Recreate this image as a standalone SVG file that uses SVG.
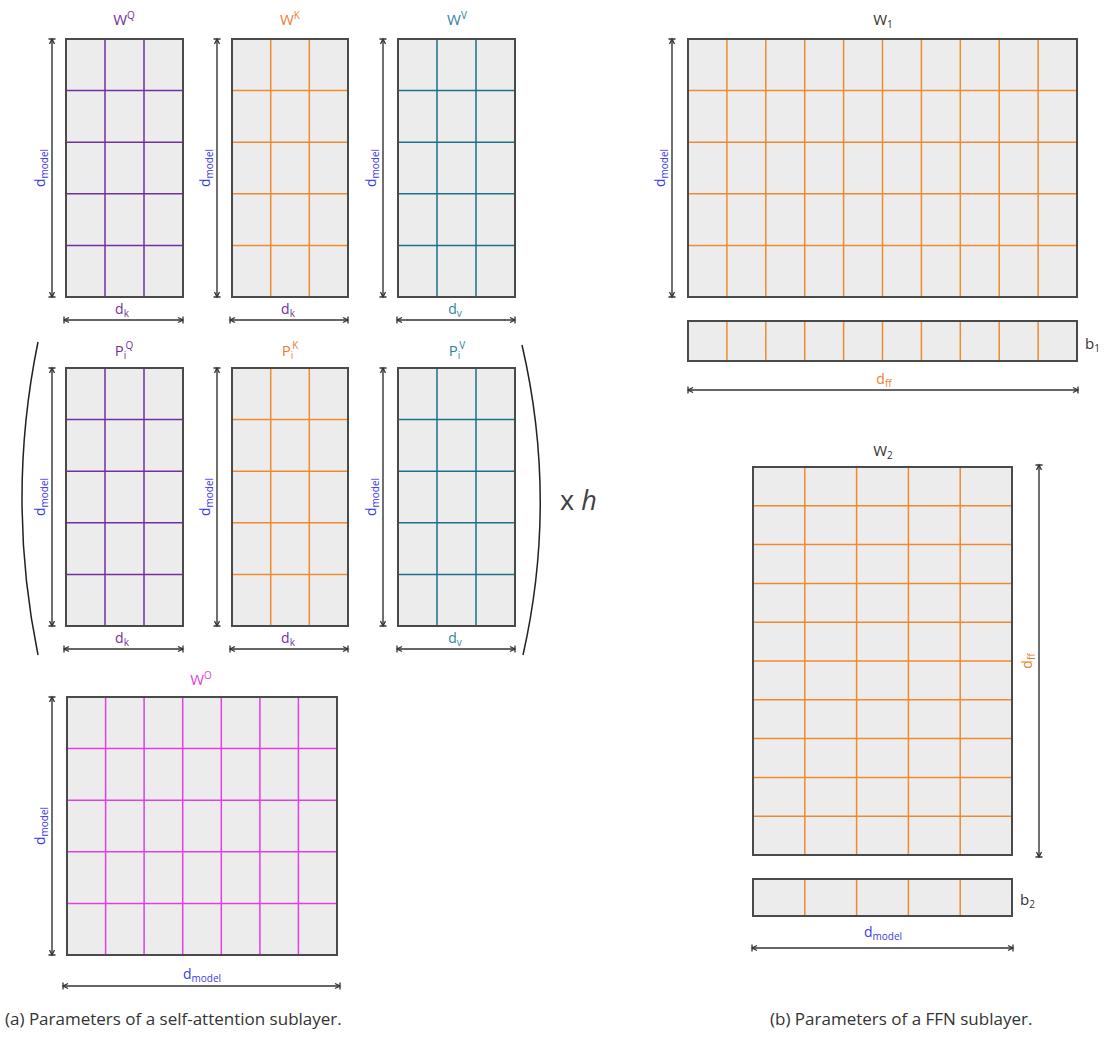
<svg xmlns="http://www.w3.org/2000/svg" width="1104" height="1037" viewBox="0 0 1104 1037">
<style>
text{font-family:"Open Sans","Noto Sans","DejaVu Sans",sans-serif}
.cell{fill:#ececec}
.border{fill:none;stroke:#4a4a4a;stroke-width:2}
.gq{stroke:#7030a0;stroke-width:1.5}
.gk{stroke:#f08a30;stroke-width:1.5}
.gv{stroke:#1f6f8b;stroke-width:1.5}
.go{stroke:#e040e0;stroke-width:1.5}
.dim{stroke:#333;stroke-width:1.4;fill:none;marker-start:url(#tick);marker-end:url(#tick)}
.par{fill:none;stroke:#222;stroke-width:1.5}
.ttl{font-size:15px;text-anchor:middle}
.lbl{font-size:14px;text-anchor:middle}
.sub{font-size:10px}
.sup{font-size:10px}
.pq{fill:#7030a0}.pk{fill:#ed7d31}.pv{fill:#31849b}.po{fill:#e040e0}.bl{fill:#3a3aef}.dk{fill:#333}
.cap{font-size:17px;fill:#333}
</style>
<defs>
<marker id="tick" viewBox="-8 -5 10 10" refX="0" refY="0" markerWidth="10" markerHeight="10" markerUnits="userSpaceOnUse" orient="auto-start-reverse">
<path d="M0,-3.5 L0,3.5 M-5,-2.5 L0,0 L-5,2.5" fill="none" stroke="#333" stroke-width="1.3"/>
</marker>
</defs>

<g id="WQ">
<rect class="cell" x="66" y="39" width="117" height="258"/>
<path class="gq" d="M105,39V297M144,39V297M66,90.6H183M66,142.2H183M66,193.8H183M66,245.4H183"/>
<rect class="border" x="66" y="39" width="117" height="258"/>
<text class="ttl pq" x="124" y="25">W<tspan class="sup" dy="-6">Q</tspan></text>
</g>
<g id="WK">
<rect class="cell" x="232" y="39" width="116" height="258"/>
<path class="gk" d="M270.7,39V297M309.3,39V297M232,90.6H348M232,142.2H348M232,193.8H348M232,245.4H348"/>
<rect class="border" x="232" y="39" width="116" height="258"/>
<text class="ttl pk" x="290" y="25">W<tspan class="sup" dy="-6">K</tspan></text>
</g>
<g id="WV">
<rect class="cell" x="398" y="39" width="117" height="258"/>
<path class="gv" d="M437,39V297M476,39V297M398,90.6H515M398,142.2H515M398,193.8H515M398,245.4H515"/>
<rect class="border" x="398" y="39" width="117" height="258"/>
<text class="ttl pv" x="457" y="25">W<tspan class="sup" dy="-6">V</tspan></text>
</g>

<g id="PQ">
<rect class="cell" x="66" y="368" width="117" height="258"/>
<path class="gq" d="M105,368V626M144,368V626M66,419.6H183M66,471.2H183M66,522.8H183M66,574.4H183"/>
<rect class="border" x="66" y="368" width="117" height="258"/>
<text class="ttl pq" x="124" y="356">P<tspan class="sub" dy="3">i</tspan><tspan class="sup" dx="-1" dy="-10">Q</tspan></text>
</g>
<g id="PK">
<rect class="cell" x="232" y="368" width="116" height="258"/>
<path class="gk" d="M270.7,368V626M309.3,368V626M232,419.6H348M232,471.2H348M232,522.8H348M232,574.4H348"/>
<rect class="border" x="232" y="368" width="116" height="258"/>
<text class="ttl pk" x="290" y="356">P<tspan class="sub" dy="3">i</tspan><tspan class="sup" dx="-1" dy="-10">K</tspan></text>
</g>
<g id="PV">
<rect class="cell" x="398" y="368" width="117" height="258"/>
<path class="gv" d="M437,368V626M476,368V626M398,419.6H515M398,471.2H515M398,522.8H515M398,574.4H515"/>
<rect class="border" x="398" y="368" width="117" height="258"/>
<text class="ttl pv" x="457" y="356">P<tspan class="sub" dy="3">i</tspan><tspan class="sup" dx="-1" dy="-10">V</tspan></text>
</g>

<g id="heads">
<path class="par" d="M38,342 Q6,498 38,655"/>
<path class="par" d="M522,345 Q558,500 523,655"/>
<text x="560" y="510" font-size="27" fill="#404040">x <tspan font-style="italic">h</tspan></text>
</g>

<g id="WO">
<rect class="cell" x="67" y="697" width="270" height="258"/>
<path class="go" d="M105.6,697V955M144.1,697V955M182.7,697V955M221.3,697V955M259.9,697V955M298.4,697V955M67,748.6H337M67,800.2H337M67,851.8H337M67,903.4H337"/>
<rect class="border" x="67" y="697" width="270" height="258"/>
<text class="ttl po" x="201" y="685">W<tspan class="sup" dy="-6">O</tspan></text>
</g>

<g id="W1">
<rect class="cell" x="688" y="39" width="389" height="258"/>
<path class="gk" d="M726.9,39V297M765.8,39V297M804.7,39V297M843.6,39V297M882.5,39V297M921.4,39V297M960.3,39V297M999.2,39V297M1038.1,39V297M688,90.6H1077M688,142.2H1077M688,193.8H1077M688,245.4H1077"/>
<rect class="border" x="688" y="39" width="389" height="258"/>
<text class="ttl dk" x="883" y="25">W<tspan class="sub" dy="3">1</tspan></text>
</g>
<g id="b1">
<rect class="cell" x="688" y="321" width="389" height="40"/>
<path class="gk" d="M726.9,321V361M765.8,321V361M804.7,321V361M843.6,321V361M882.5,321V361M921.4,321V361M960.3,321V361M999.2,321V361M1038.1,321V361"/>
<rect class="border" x="688" y="321" width="389" height="40"/>
<text class="dk" x="1085" y="349" font-size="15">b<tspan class="sub" dy="3">1</tspan></text>
</g>
<g id="W2">
<rect class="cell" x="753" y="467" width="259" height="388"/>
<path class="gk" d="M804.8,467V855M856.6,467V855M908.4,467V855M960.2,467V855M753,505.8H1012M753,544.6H1012M753,583.4H1012M753,622.2H1012M753,661H1012M753,699.8H1012M753,738.6H1012M753,777.4H1012M753,816.2H1012"/>
<rect class="border" x="753" y="467" width="259" height="388"/>
<text class="ttl dk" x="883" y="456">W<tspan class="sub" dy="3">2</tspan></text>
</g>
<g id="b2">
<rect class="cell" x="753" y="879" width="259" height="37"/>
<path class="gk" d="M804.8,879V916M856.6,879V916M908.4,879V916M960.2,879V916"/>
<rect class="border" x="753" y="879" width="259" height="37"/>
<text class="dk" x="1020" y="905" font-size="15">b<tspan class="sub" dy="3">2</tspan></text>
</g>

<g id="connectors">
<line class="dim" x1="52" y1="297" x2="52" y2="39"/>
<line class="dim" x1="217" y1="297" x2="217" y2="39"/>
<line class="dim" x1="383" y1="297" x2="383" y2="39"/>
<line class="dim" x1="52" y1="626" x2="52" y2="368"/>
<line class="dim" x1="217" y1="626" x2="217" y2="368"/>
<line class="dim" x1="383" y1="626" x2="383" y2="368"/>
<line class="dim" x1="52" y1="955" x2="52" y2="697"/>
<line class="dim" x1="672" y1="297" x2="672" y2="39"/>
<line class="dim" x1="1039" y1="465" x2="1039" y2="857"/>
<line class="dim" x1="64" y1="320" x2="183" y2="320"/>
<line class="dim" x1="230" y1="320" x2="348" y2="320"/>
<line class="dim" x1="397" y1="320" x2="515" y2="320"/>
<line class="dim" x1="64" y1="649" x2="183" y2="649"/>
<line class="dim" x1="230" y1="649" x2="348" y2="649"/>
<line class="dim" x1="397" y1="649" x2="515" y2="649"/>
<line class="dim" x1="63" y1="986" x2="340" y2="986"/>
<line class="dim" x1="688" y1="390" x2="1078" y2="390"/>
<line class="dim" x1="752" y1="948" x2="1013" y2="948"/>
</g>

<g id="labels">
<text class="lbl pq" x="122" y="314">d<tspan class="sub" dy="3">k</tspan></text>
<text class="lbl pq" x="288" y="314">d<tspan class="sub" dy="3">k</tspan></text>
<text class="lbl pv" x="455" y="314">d<tspan class="sub" dy="3">v</tspan></text>
<text class="lbl pq" x="122" y="643">d<tspan class="sub" dy="3">k</tspan></text>
<text class="lbl pq" x="288" y="643">d<tspan class="sub" dy="3">k</tspan></text>
<text class="lbl pv" x="455" y="643">d<tspan class="sub" dy="3">v</tspan></text>
<text class="lbl bl" x="202" y="979">d<tspan class="sub" dy="3">model</tspan></text>
<text class="lbl pk" x="884" y="384">d<tspan class="sub" dy="3">ff</tspan></text>
<text class="lbl bl" x="883" y="937">d<tspan class="sub" dy="3">model</tspan></text>
<text class="lbl bl" transform="translate(45,168) rotate(-90)">d<tspan class="sub" dy="3">model</tspan></text>
<text class="lbl bl" transform="translate(210,168) rotate(-90)">d<tspan class="sub" dy="3">model</tspan></text>
<text class="lbl bl" transform="translate(376,168) rotate(-90)">d<tspan class="sub" dy="3">model</tspan></text>
<text class="lbl bl" transform="translate(45,497) rotate(-90)">d<tspan class="sub" dy="3">model</tspan></text>
<text class="lbl bl" transform="translate(210,497) rotate(-90)">d<tspan class="sub" dy="3">model</tspan></text>
<text class="lbl bl" transform="translate(376,497) rotate(-90)">d<tspan class="sub" dy="3">model</tspan></text>
<text class="lbl bl" transform="translate(45,826) rotate(-90)">d<tspan class="sub" dy="3">model</tspan></text>
<text class="lbl bl" transform="translate(665,168) rotate(-90)">d<tspan class="sub" dy="3">model</tspan></text>
<text class="lbl pk" transform="translate(1032,661) rotate(-90)">d<tspan class="sub" dy="3">ff</tspan></text>
</g>

<g id="captions">
<text class="cap" x="5" y="1025">(a) Parameters of a self-attention sublayer.</text>
<text class="cap" x="770" y="1025">(b) Parameters of a FFN sublayer.</text>
</g>
</svg>
